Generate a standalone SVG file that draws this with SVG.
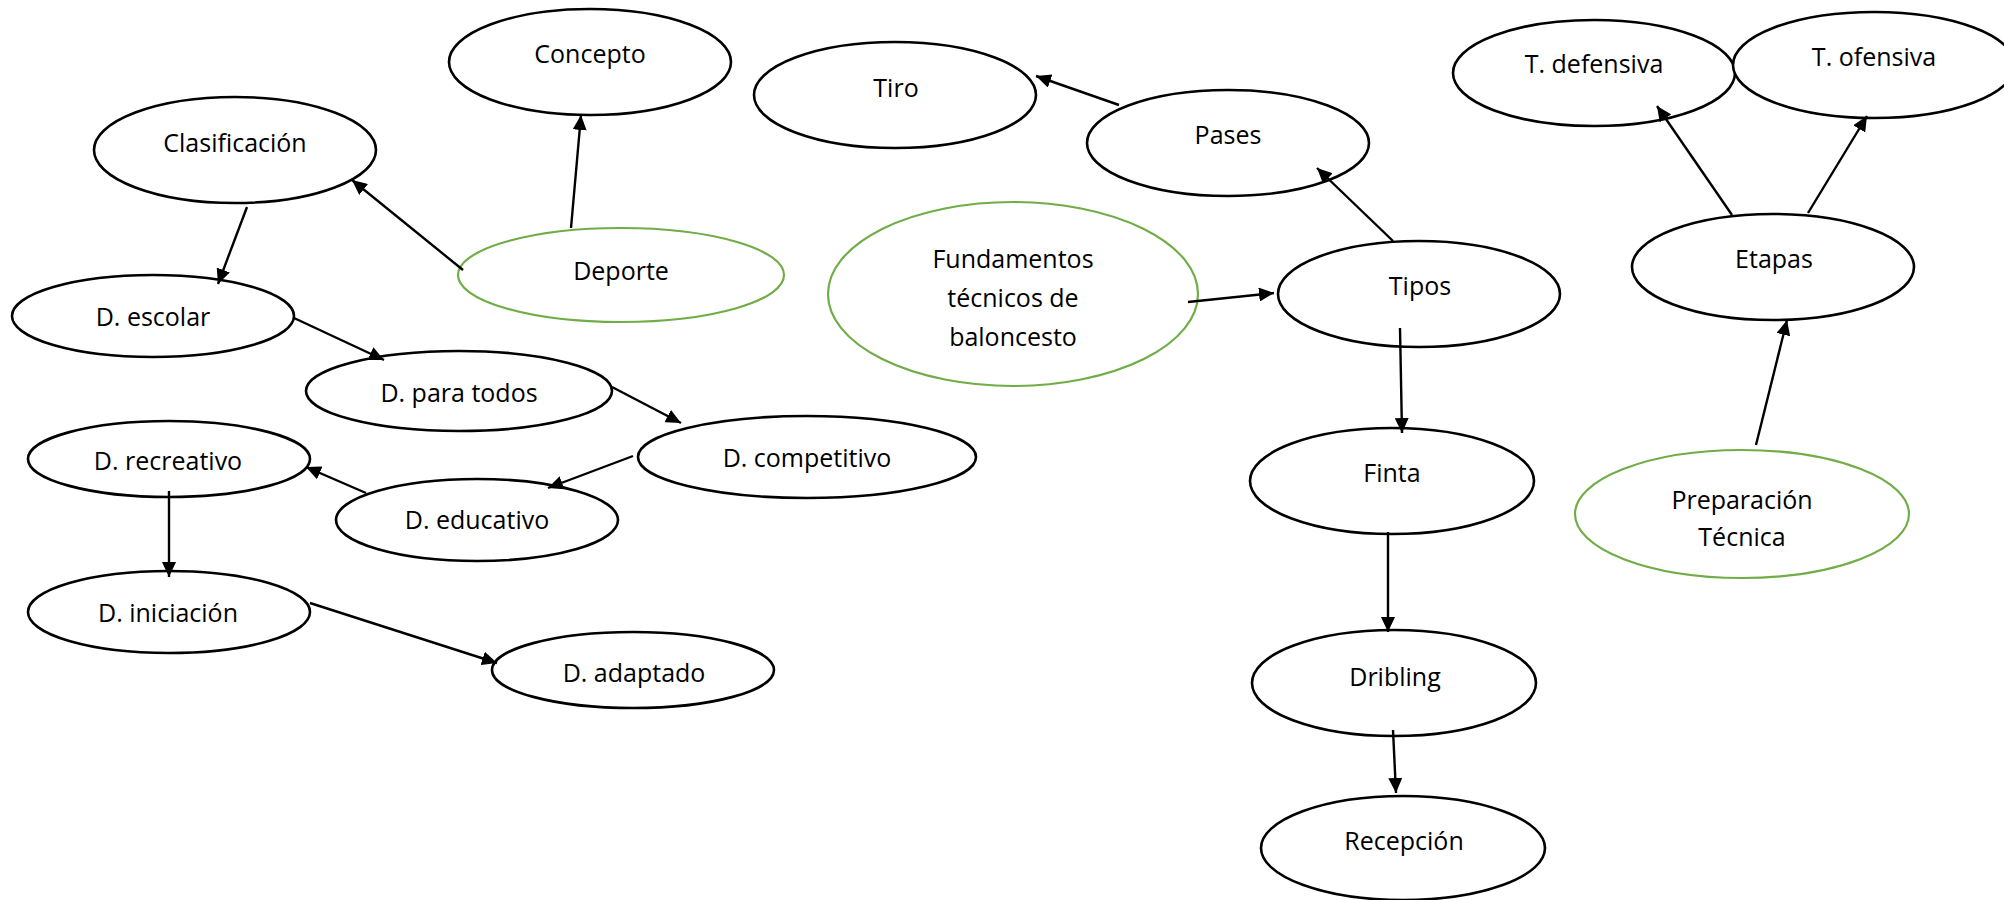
<svg xmlns="http://www.w3.org/2000/svg" width="2004" height="900" viewBox="0 0 2004 900">
<style>
.n ellipse{fill:#fff;stroke:#000;stroke-width:2.6}
.g ellipse{fill:#fff;stroke:#70AD47;stroke-width:2.2}
text{font-family:"Open Sans","Liberation Sans",sans-serif;font-size:25px;fill:#000;text-anchor:middle}
#edges line{stroke:#000;stroke-width:2.4;marker-end:url(#ah)}
</style>
<defs>
<marker id="ah" markerUnits="userSpaceOnUse" markerWidth="16" markerHeight="14" refX="15" refY="7" orient="auto">
<path d="M0,0 L15,7 L0,14 z" fill="#000"/>
</marker>
</defs>
<rect width="2004" height="900" fill="#fff"/>
<g id="concepto" class="n"><ellipse cx="590" cy="62" rx="141" ry="53"/><text x="590" y="63">Concepto</text></g>
<g id="clasificacion" class="n"><ellipse cx="235" cy="150" rx="141" ry="53"/><text x="235" y="152">Clasificación</text></g>
<g id="deporte" class="g"><ellipse cx="621" cy="275" rx="163" ry="47"/><text x="621" y="280">Deporte</text></g>
<g id="d-escolar" class="n"><ellipse cx="153" cy="316" rx="141" ry="41"/><text x="153" y="326">D. escolar</text></g>
<g id="d-para-todos" class="n"><ellipse cx="459" cy="391" rx="153" ry="40"/><text x="459" y="402">D. para todos</text></g>
<g id="d-competitivo" class="n"><ellipse cx="807" cy="457" rx="169" ry="41"/><text x="807" y="467">D. competitivo</text></g>
<g id="d-recreativo" class="n"><ellipse cx="169" cy="459" rx="141" ry="38"/><text x="168" y="470">D. recreativo</text></g>
<g id="d-educativo" class="n"><ellipse cx="477" cy="520" rx="141" ry="41"/><text x="477" y="529">D. educativo</text></g>
<g id="d-iniciacion" class="n"><ellipse cx="169" cy="612" rx="141" ry="41"/><text x="168" y="622">D. iniciación</text></g>
<g id="d-adaptado" class="n"><ellipse cx="633" cy="670" rx="141" ry="38"/><text x="634" y="682">D. adaptado</text></g>
<g id="tiro" class="n"><ellipse cx="895" cy="95" rx="141" ry="53"/><text x="896" y="97">Tiro</text></g>
<g id="pases" class="n"><ellipse cx="1228" cy="143" rx="141" ry="53"/><text x="1228" y="144">Pases</text></g>
<g id="fundamentos" class="g"><ellipse cx="1013" cy="294" rx="185" ry="92"/><text x="1013" y="268">Fundamentos</text><text x="1013" y="307">técnicos de</text><text x="1013" y="346">baloncesto</text></g>
<g id="tipos" class="n"><ellipse cx="1419" cy="294" rx="141" ry="53"/><text x="1420" y="295">Tipos</text></g>
<g id="finta" class="n"><ellipse cx="1392" cy="481" rx="142" ry="53"/><text x="1392" y="482">Finta</text></g>
<g id="dribling" class="n"><ellipse cx="1394" cy="683" rx="142" ry="53"/><text x="1395" y="686">Dribling</text></g>
<g id="recepcion" class="n"><ellipse cx="1403" cy="848" rx="142" ry="52"/><text x="1404" y="850">Recepción</text></g>
<g id="t-defensiva" class="n"><ellipse cx="1594" cy="73" rx="141" ry="53"/><text x="1594" y="73">T. defensiva</text></g>
<g id="t-ofensiva" class="n"><ellipse cx="1874" cy="65" rx="141" ry="53"/><text x="1874" y="66">T. ofensiva</text></g>
<g id="etapas" class="n"><ellipse cx="1773" cy="267" rx="141" ry="53"/><text x="1774" y="268">Etapas</text></g>
<g id="preparacion" class="g"><ellipse cx="1742" cy="514" rx="167" ry="64"/><text x="1742" y="509">Preparación</text><text x="1742" y="546">Técnica</text></g>
<g id="edges">
<line x1="571" y1="228" x2="581" y2="115"/>
<line x1="463" y1="270" x2="352" y2="180"/>
<line x1="247" y1="207" x2="218" y2="284"/>
<line x1="294" y1="318" x2="384" y2="360"/>
<line x1="612" y1="387" x2="681" y2="423"/>
<line x1="633" y1="456" x2="548" y2="488"/>
<line x1="366" y1="493" x2="306" y2="467"/>
<line x1="169" y1="491" x2="169" y2="577"/>
<line x1="310" y1="603" x2="497" y2="663"/>
<line x1="1119" y1="105" x2="1036" y2="76"/>
<line x1="1393" y1="241" x2="1317" y2="168"/>
<line x1="1188" y1="302" x2="1274" y2="293"/>
<line x1="1400" y1="328" x2="1402" y2="433"/>
<line x1="1388" y1="532" x2="1388" y2="632"/>
<line x1="1393" y1="730" x2="1396" y2="793"/>
<line x1="1732" y1="215" x2="1657" y2="106"/>
<line x1="1808" y1="213" x2="1867" y2="116"/>
<line x1="1756" y1="445" x2="1787" y2="320"/>
</g>
</svg>
